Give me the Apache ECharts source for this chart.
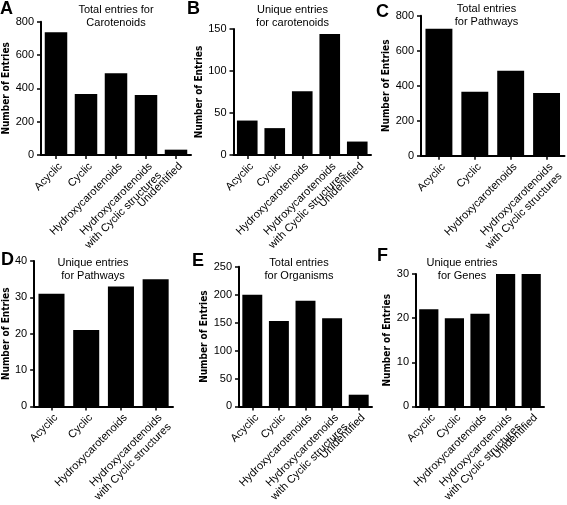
<!DOCTYPE html>
<html><head><meta charset="utf-8">
<script src="https://cdn.jsdelivr.net/npm/echarts@6/dist/echarts.min.js"></script>
<style>html,body{margin:0;padding:0;background:#fff}#c{width:567px;height:505px}</style>
</head><body><div id="c"></div>
<script>
const categories5 = ['Acyclic', 'Cyclic', 'Hydroxycarotenoids', 'Hydroxycarotenoids\nwith Cyclic structures', 'Unidentified'];
const categories4 = ['Acyclic', 'Cyclic', 'Hydroxycarotenoids', 'Hydroxycarotenoids\nwith Cyclic structures'];

const totalCarotenoids = [736, 366, 490, 360, 32];
const uniqueCarotenoids = [41, 32, 76, 144, 16];
const totalPathways = [725, 366, 485, 358];
const uniquePathways = [31, 21, 33, 35];
const totalOrganisms = [200, 153, 189, 158, 21];
const uniqueGenes = [22, 20, 21, 30, 30];

const panelLetters = ['A', 'B', 'C', 'D', 'E', 'F'];
const panelTitles = ['Total entries for\nCarotenoids', 'Unique entries\nfor carotenoids', 'Total entries\nfor Pathways',
  'Unique entries\nfor Pathways', 'Total entries\nfor Organisms', 'Unique entries\nfor Genes'];
const yMax = [800, 150, 800, 40, 250, 30];
const yInterval = [200, 50, 200, 10, 50, 10];
const yAxisName = 'Number of Entries';

const panels = [
  {cats: categories5, vals: totalCarotenoids},
  {cats: categories5, vals: uniqueCarotenoids},
  {cats: categories4, vals: totalPathways},
  {cats: categories4, vals: uniquePathways},
  {cats: categories5, vals: totalOrganisms},
  {cats: categories5, vals: uniqueGenes}
];

// layout (pixels)
const gridBoxes = [
  {left: 41, top: 21.7, width: 150, height: 133.3},
  {left: 233.5, top: 29, width: 137.5, height: 126},
  {left: 421, top: 15.7, width: 144, height: 140},
  {left: 34, top: 261, width: 139, height: 149},
  {left: 239, top: 266.7, width: 133, height: 145.3},
  {left: 416, top: 274, width: 128, height: 138}
];
const nameGaps = [28, 21, 24, 20, 26, 20];
const titlePos = [[116, 3], [292.5, 3], [486.5, 2.5], [93, 256.5], [299, 256.5], [462, 256]];
const letterPos = [[0, 0], [187, 0], [376, 3], [1, 251], [192, 252], [377, 247]];

const FONT = '"Liberation Sans", Arial, Helvetica, sans-serif';
const NAME_FONT = '"DejaVu Sans Condensed", "Liberation Sans", sans-serif';

const grid = [], xAxis = [], yAxis = [], series = [], title = [];
panels.forEach((p, i) => {
  grid.push(Object.assign({containLabel: false}, gridBoxes[i]));
  xAxis.push({
    type: 'category', gridIndex: i, data: p.cats,
    axisLine: {show: true, lineStyle: {color: '#000', width: 2}},
    axisTick: {show: true, alignWithLabel: true, length: 4, lineStyle: {color: '#000', width: 1.5}},
    axisLabel: {
      interval: 0, rotate: 45, margin: 5, color: '#000', fontSize: 11, fontFamily: FONT,
      lineHeight: 13, align: 'right', verticalAlign: 'top'
    },
    splitLine: {show: false}
  });
  yAxis.push({
    type: 'value', gridIndex: i, min: 0, max: yMax[i], interval: yInterval[i],
    name: yAxisName, nameLocation: 'middle', nameGap: nameGaps[i],
    nameTextStyle: {color: '#000', fontSize: 10, fontWeight: 'bold', fontFamily: NAME_FONT},
    axisLine: {show: true, lineStyle: {color: '#000', width: 2}},
    axisTick: {show: true, length: 4, lineStyle: {color: '#000', width: 1.5}},
    axisLabel: {color: '#000', fontSize: 11, fontFamily: FONT, margin: 7},
    splitLine: {show: false}
  });
  series.push({
    type: 'bar', xAxisIndex: i, yAxisIndex: i, data: p.vals,
    barCategoryGap: '25%',
    itemStyle: {color: '#000'},
    silent: true, animation: false
  });
  title.push({
    text: panelTitles[i], left: titlePos[i][0], top: titlePos[i][1], textAlign: 'center', padding: 0,
    textStyle: {color: '#000', fontSize: 11, fontWeight: 'normal', fontFamily: FONT, lineHeight: 13}
  });
  title.push({
    text: panelLetters[i], left: letterPos[i][0], top: letterPos[i][1], padding: 0,
    textStyle: {color: '#000', fontSize: 18, fontWeight: 'bold', fontFamily: FONT, lineHeight: 18}
  });
});

const chart = echarts.init(document.getElementById('c'), null, {renderer: 'canvas'});
chart.setOption({animation: false, backgroundColor: '#fff', title, grid, xAxis, yAxis, series});
</script>
</body></html>
